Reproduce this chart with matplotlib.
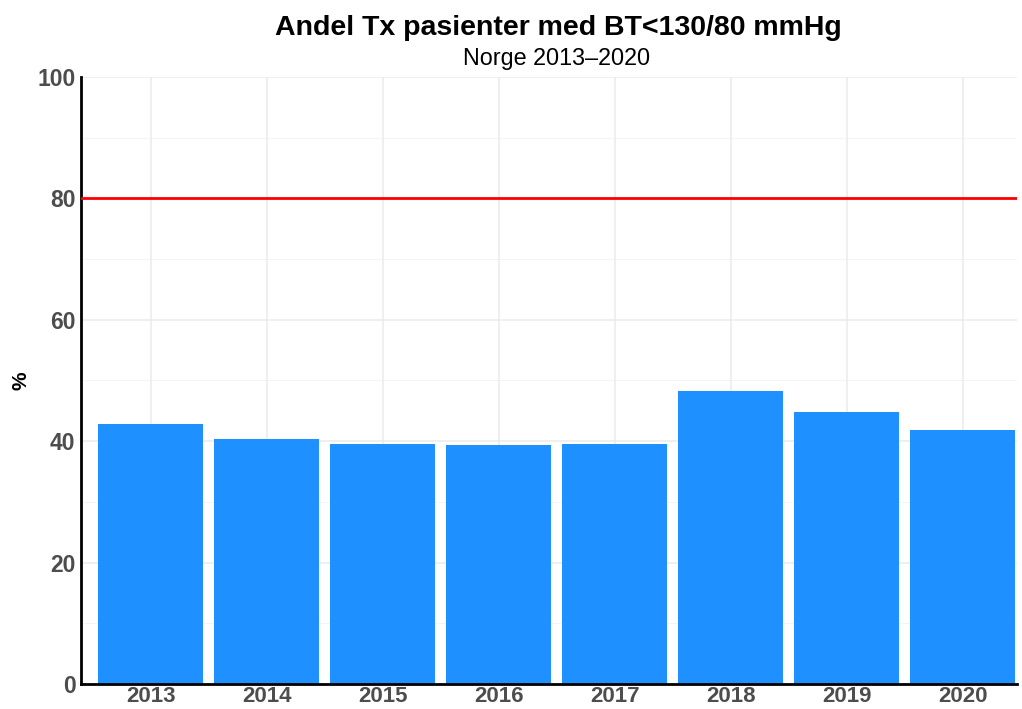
import matplotlib
matplotlib.use("Agg")
import matplotlib.pyplot as plt
import numpy as np

years = ["2013", "2014", "2015", "2016", "2017", "2018", "2019", "2020"]
andel = [42.8, 40.3, 39.6, 39.3, 39.6, 48.2, 44.8, 41.9]
maal = 80

plt.rcParams['font.family'] = ['Liberation Sans', 'DejaVu Sans']

fig = plt.figure(figsize=(10.22, 7.09), dpi=100)
ax = fig.add_axes([0.0793, 0.0353, 0.9159, 0.8561])

x = np.arange(len(years))
ax.bar(x, andel, width=0.9, color="#1E90FF", zorder=2)
ax.axhline(maal, color="#FF0000", linewidth=2, zorder=3)

ax.set_xlim(-0.6, 7.47)
ax.set_ylim(0, 100)
ax.set_xticks(x)
ax.set_xticklabels(years)
ax.set_yticks(np.arange(0, 101, 20))
ax.set_yticks(np.arange(10, 100, 20), minor=True)

ax.grid(True, which="major", color="#EBEBEB", linewidth=1.1, zorder=0)
ax.grid(True, which="minor", axis="y", color="#F2F2F2", linewidth=0.6, zorder=0)
ax.set_axisbelow(True)

for s in ["top", "right"]:
    ax.spines[s].set_visible(False)
for s in ["left", "bottom"]:
    ax.spines[s].set_linewidth(2)
    ax.spines[s].set_color("black")

ax.tick_params(axis="both", which="both", length=0, labelsize=16.5, labelcolor="#4D4D4D")
ax.tick_params(axis="x", labelsize=16, pad=1.5)
ax.tick_params(axis="y", pad=4)
for lab in ax.get_xticklabels() + ax.get_yticklabels():
    lab.set_fontweight("bold")

ax.set_ylabel("%", fontsize=15, fontweight="bold")
ax.yaxis.set_label_coords(-0.054, 0.5)

fig.text(0.546, 0.961, "Andel Tx pasienter med BT<130/80 mmHg", ha="center", va="center",
         fontsize=20.5, fontweight="bold")
fig.text(0.545, 0.918, "Norge 2013\u20132020", ha="center", va="center", fontsize=16.8)

fig.savefig("out.png", dpi=100)
